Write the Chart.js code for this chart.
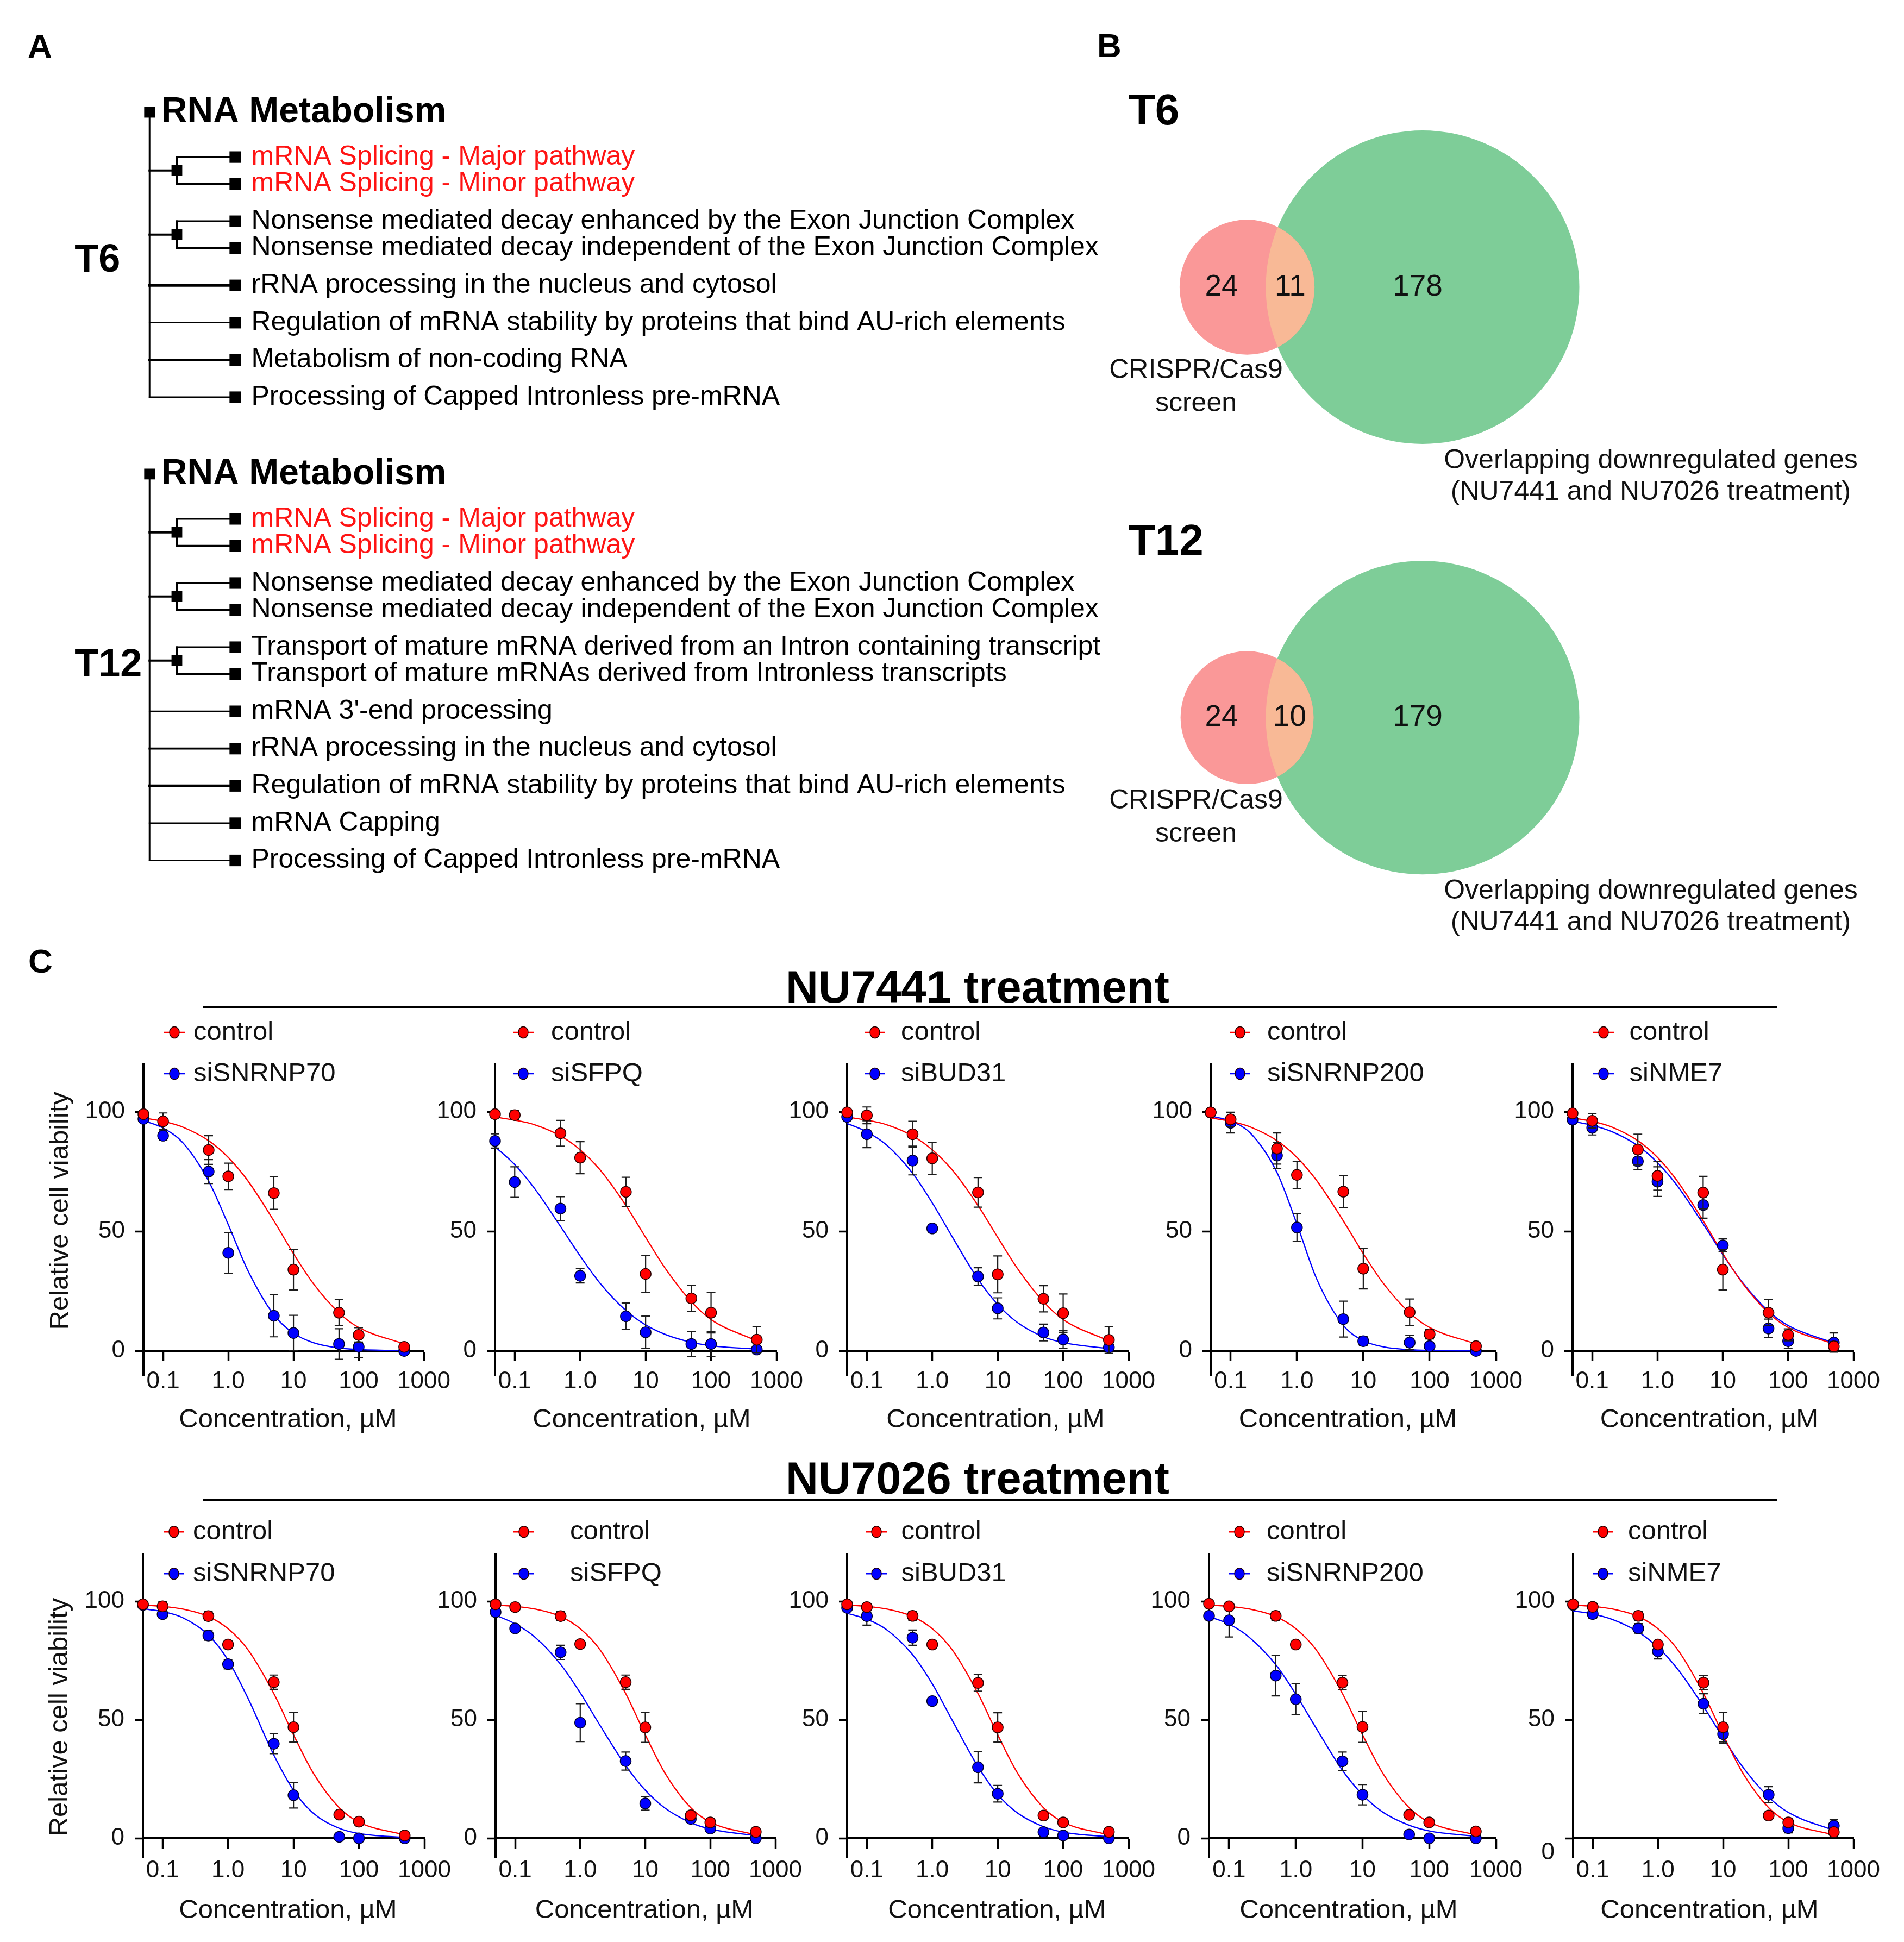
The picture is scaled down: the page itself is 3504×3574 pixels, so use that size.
<!DOCTYPE html>
<html lang="en">
<head>
<meta charset="utf-8">
<title>RNA metabolism, Venn overlap and dose-response figure</title>
<script src="https://cdn.jsdelivr.net/npm/chart.js@4.4.1/dist/chart.umd.min.js"></script>
<style>
  html, body { margin:0; padding:0; background:#fff; }
  body { position:relative; width:3504px; height:3574px; overflow:hidden;
         font-family:"Liberation Sans", Arial, Helvetica, sans-serif; color:#000; }
  canvas { position:absolute; }
  .t { position:absolute; line-height:1; white-space:nowrap; font-weight:bold; }
  .rule { position:absolute; height:0; border-top:3px solid #000; }
</style>
</head>
<body>
<script>
// ===================== DATA =====================
// ---- Panel A: Reactome tree ----
const TREE_ROOT = 'RNA Metabolism';
const TREE_NAMES = ['T6', 'T12'];
const T6_PATHWAYS = [
  'mRNA Splicing - Major pathway',
  'mRNA Splicing - Minor pathway',
  'Nonsense mediated decay enhanced by the Exon Junction Complex',
  'Nonsense mediated decay independent of the Exon Junction Complex',
  'rRNA processing in the nucleus and cytosol',
  'Regulation of mRNA stability by proteins that bind AU-rich elements',
  'Metabolism of non-coding RNA',
  'Processing of Capped Intronless pre-mRNA'
];
const T6_CLUSTER = [1, 1, 2, 2, 0, 0, 0, 0];
const T6_HIGHLIGHT = [1, 1, 0, 0, 0, 0, 0, 0];
const T12_PATHWAYS = [
  'mRNA Splicing - Major pathway',
  'mRNA Splicing - Minor pathway',
  'Nonsense mediated decay enhanced by the Exon Junction Complex',
  'Nonsense mediated decay independent of the Exon Junction Complex',
  'Transport of mature mRNA derived from an Intron containing transcript',
  'Transport of mature mRNAs derived from Intronless transcripts',
  "mRNA 3'-end processing",
  'rRNA processing in the nucleus and cytosol',
  'Regulation of mRNA stability by proteins that bind AU-rich elements',
  'mRNA Capping',
  'Processing of Capped Intronless pre-mRNA'
];
const T12_CLUSTER = [1, 1, 2, 2, 3, 3, 0, 0, 0, 0, 0];
const T12_HIGHLIGHT = [1, 1, 0, 0, 0, 0, 0, 0, 0, 0, 0];

// ---- Panel B: Venn counts [CRISPR only, both, overlapping-DEG only] ----
const VENN_NAMES = ['T6', 'T12'];
const VENN_T6 = [24, 11, 178];
const VENN_T12 = [24, 10, 179];
const VENN_LEFT_LABEL = ['CRISPR/Cas9', 'screen'];
const VENN_RIGHT_LABEL = ['Overlapping downregulated genes', '(NU7441 and NU7026 treatment)'];

// ---- Panel C: dose response ----
const TREATMENTS = ['NU7441 treatment', 'NU7026 treatment'];
const KNOCKDOWNS = ['siSNRNP70', 'siSFPQ', 'siBUD31', 'siSNRNP200', 'siNME7'];
const DOSES = [0.05, 0.1, 0.5, 1, 5, 10, 50, 100, 500];
const FIT_X = [0.05, 0.1, 0.2, 0.5, 1, 2, 5, 10, 20, 50, 100, 500];
const X_TICKS = [0.1, 1, 10, 100, 1000];
const X_TICK_LABELS = ['0.1', '1.0', '10', '100', '1000'];
const Y_TICKS = [0, 50, 100];
const Y_TICK_LABELS = ['0', '50', '100'];

// NU7441
const c1_ctrl    = [99, 96, 84, 73, 66, 34, 16, 6.7, 1.7];
const c1_ctrl_sd = [1.5, 3.5, 6, 5.5, 6.8, 8.5, 5.5, 3, 1.5];
const c1_si      = [97, 90, 75, 41, 14.7, 7.5, 2.9, 1.7, 0];
const c1_si_sd   = [1, 2, 5, 8.5, 8.8, 7.4, 6.4, 4.6, 1];
const c1_ctrl_fit = [97.4, 96.0, 93.6, 87.9, 80.9, 71.1, 54.4, 40.7, 28.3, 15.9, 9.8, 2.9];
const c1_si_fit   = [96.3, 93.2, 87.1, 71.0, 52.8, 33.6, 15.1, 7.4, 3.5, 1.2, 0.6, 0.1];

const c2_ctrl    = [99, 98.6, 91, 80.8, 66.5, 32.2, 22, 16, 4.7];
const c2_ctrl_sd = [1, 2, 5.4, 6.7, 6.1, 7.7, 5.5, 8.5, 5.4];
const c2_si      = [87.8, 70.6, 59.5, 31.4, 14.5, 7.8, 2.9, 2.9, 0.6];
const c2_si_sd   = [3, 6.4, 5, 3, 5.5, 6.8, 5.2, 5.2, 1];
const c2_ctrl_fit = [97.8, 96.5, 94.6, 89.9, 84.1, 75.8, 60.8, 47.5, 34.5, 20.6, 13.1, 4.2];
const c2_si_fit   = [85.4, 77.9, 68.0, 52.1, 39.7, 28.4, 16.9, 10.9, 6.9, 3.6, 2.2, 0.7];

const c3_ctrl    = [99.7, 98.5, 90.6, 80.5, 66.3, 32, 21.8, 15.8, 4.6];
const c3_ctrl_sd = [1, 3.5, 5.4, 6.7, 6.2, 7.7, 5.5, 8, 5.6];
const c3_si      = [97.9, 90.6, 79.6, 51.2, 31.1, 17.8, 7.7, 4.8, 1.5];
const c3_si_sd   = [1, 5.6, 6, 1.5, 3.7, 4.4, 3.5, 3.8, 1];
const c3_ctrl_fit = [97.8, 96.5, 94.6, 89.9, 84.1, 75.8, 60.8, 47.5, 34.5, 20.6, 13.1, 4.2];
const c3_si_fit   = [95.1, 91.6, 86.1, 74.3, 61.9, 47.9, 30.0, 19.4, 11.9, 5.9, 3.5, 0.9];

const c4_ctrl    = [99.7, 96.8, 84.6, 73.6, 66.6, 34.4, 16.2, 7, 2];
const c4_ctrl_sd = [1, 3, 6.5, 5.7, 6.8, 8.5, 5.5, 2, 1.5];
const c4_si      = [99.7, 95.4, 81.7, 51.6, 13.3, 4.1, 3.5, 2, 0];
const c4_si_sd   = [1, 4.3, 5.5, 5.8, 7.5, 2, 3, 1.5, 1];
const c4_ctrl_fit = [97.4, 96.0, 93.6, 87.9, 80.9, 71.1, 54.4, 40.7, 28.3, 15.9, 9.8, 2.9];
const c4_si_fit   = [98.2, 96.1, 91.0, 74.6, 53.0, 29.9, 10.7, 4.3, 1.7, 0.5, 0.2, 0.0];

const c5_ctrl    = [99.3, 96.2, 84.2, 73.2, 66.2, 34, 16, 6.7, 1.9];
const c5_ctrl_sd = [1, 3, 6.4, 6, 6.8, 8.5, 5.5, 2.5, 2];
const c5_si      = [96.7, 93.3, 79.3, 70.8, 61, 44.1, 9.4, 4.1, 3.5];
const c5_si_sd   = [1, 3, 3.5, 6.2, 5.5, 2.7, 3.9, 3, 4];
const c5_ctrl_fit = [97.4, 96.0, 93.6, 87.9, 80.9, 71.1, 54.4, 40.7, 28.3, 15.9, 9.8, 2.9];
const c5_si_fit   = [96.0, 94.3, 91.7, 85.8, 78.7, 69.1, 53.1, 40.3, 28.6, 16.6, 10.6, 3.3];

// NU7026
const c6_ctrl    = [98.8, 97.9, 93.8, 81.8, 65.9, 46.9, 10, 7, 1.2];
const c6_ctrl_sd = [1, 2, 2, 1.5, 3, 6.3, 1.5, 1.5, 1];
const c6_si      = [98.5, 94.6, 85.6, 73.5, 39.9, 18.2, 0.6, 0, 0];
const c6_si_sd   = [1, 1.5, 2, 2, 4.2, 5.4, 1, 1, 1];
const c6_ctrl_fit = [98.5, 97.9, 96.8, 93.6, 88.5, 79.7, 61.1, 43.7, 27.6, 12.9, 6.8, 1.4];
const c6_si_fit   = [96.9, 95.7, 93.2, 85.8, 75.2, 59.3, 35.2, 20.3, 10.6, 4.2, 2.0, 0.3];

const c7_ctrl    = [98.8, 97.6, 93.8, 82, 65.9, 46.8, 9.7, 6.7, 2.7];
const c7_ctrl_sd = [1, 1.5, 2, 1.5, 3, 6.3, 1.5, 1.5, 1.5];
const c7_si      = [95.5, 88.6, 78.5, 48.8, 32.6, 14.7, 8.2, 4.1, 0];
const c7_si_sd   = [1, 1.5, 3, 8, 3.8, 2.8, 1.5, 1.5, 1];
const c7_ctrl_fit = [98.5, 97.9, 96.8, 93.6, 88.5, 79.7, 61.1, 43.7, 27.6, 12.9, 6.8, 1.4];
const c7_si_fit   = [94.2, 90.5, 85.0, 73.4, 61.4, 47.8, 30.7, 20.3, 12.8, 6.6, 3.9, 1.1];

const c8_ctrl    = [98.8, 97.6, 93.9, 81.8, 65.6, 46.8, 9.6, 6.7, 2.7];
const c8_ctrl_sd = [1, 1.5, 2, 1.5, 3.5, 6.2, 1.5, 1.5, 1.5];
const c8_si      = [97.3, 93.8, 84.7, 57.9, 30, 18.8, 2.6, 1.2, 0];
const c8_si_sd   = [1, 3.8, 3.2, 1.5, 6.6, 3.5, 1.5, 1.5, 1];
const c8_ctrl_fit = [98.5, 97.9, 96.8, 93.6, 88.5, 79.7, 61.1, 43.7, 27.6, 12.9, 6.8, 1.4];
const c8_si_fit   = [95.0, 92.5, 88.1, 77.5, 65.2, 50.0, 30.2, 18.5, 10.7, 4.9, 2.6, 0.6];

const c9_ctrl    = [99, 97.9, 93.9, 81.8, 65.7, 47, 9.9, 6.7, 2.9];
const c9_ctrl_sd = [1, 1.5, 2, 1.5, 3, 6.5, 1.5, 1.5, 1.5];
const c9_si      = [93.9, 92, 68.7, 58.7, 32.5, 18.4, 1.6, 0, 0];
const c9_si_sd   = [1.5, 7, 8.6, 6.5, 3.9, 4.3, 1, 1, 1];
const c9_ctrl_fit = [98.5, 97.9, 96.8, 93.6, 88.5, 79.7, 61.1, 43.7, 27.6, 12.9, 6.8, 1.4];
const c9_si_fit   = [93.6, 90.4, 84.9, 73.3, 60.8, 46.7, 28.7, 18.4, 11.1, 5.5, 3.1, 0.8];

const c10_ctrl    = [98.8, 97.7, 93.9, 81.8, 65.7, 46.9, 9.6, 6.7, 2.6];
const c10_ctrl_sd = [1, 1.5, 2, 1.5, 3, 6.2, 1.5, 1.5, 1.5];
const c10_si      = [98.5, 94.7, 88.6, 78.9, 56.8, 44, 18.4, 4.3, 5.3];
const c10_si_sd   = [1, 2, 2, 3.2, 4.2, 3.8, 3.4, 2, 2.5];
const c10_ctrl_fit = [98.5, 97.9, 96.8, 93.6, 88.5, 79.7, 61.1, 43.7, 27.6, 12.9, 6.8, 1.4];
const c10_si_fit   = [96.0, 94.7, 92.4, 87.1, 80.6, 71.5, 55.7, 42.4, 30.1, 17.4, 10.9, 3.3];

// ===================== STYLE / LAYOUT =====================
const FONT = '"Liberation Sans", Arial, Helvetica, sans-serif';
const RED = '#ff0000', BLUE = '#0000ff', INK = '#111111';
const HL_RED = '#ff1414';

const PANELS = [
  {ctrl:c1_ctrl, ctrlSd:c1_ctrl_sd, si:c1_si, siSd:c1_si_sd, ctrlFit:c1_ctrl_fit, siFit:c1_si_fit},
  {ctrl:c2_ctrl, ctrlSd:c2_ctrl_sd, si:c2_si, siSd:c2_si_sd, ctrlFit:c2_ctrl_fit, siFit:c2_si_fit},
  {ctrl:c3_ctrl, ctrlSd:c3_ctrl_sd, si:c3_si, siSd:c3_si_sd, ctrlFit:c3_ctrl_fit, siFit:c3_si_fit},
  {ctrl:c4_ctrl, ctrlSd:c4_ctrl_sd, si:c4_si, siSd:c4_si_sd, ctrlFit:c4_ctrl_fit, siFit:c4_si_fit},
  {ctrl:c5_ctrl, ctrlSd:c5_ctrl_sd, si:c5_si, siSd:c5_si_sd, ctrlFit:c5_ctrl_fit, siFit:c5_si_fit},
  {ctrl:c6_ctrl, ctrlSd:c6_ctrl_sd, si:c6_si, siSd:c6_si_sd, ctrlFit:c6_ctrl_fit, siFit:c6_si_fit},
  {ctrl:c7_ctrl, ctrlSd:c7_ctrl_sd, si:c7_si, siSd:c7_si_sd, ctrlFit:c7_ctrl_fit, siFit:c7_si_fit},
  {ctrl:c8_ctrl, ctrlSd:c8_ctrl_sd, si:c8_si, siSd:c8_si_sd, ctrlFit:c8_ctrl_fit, siFit:c8_si_fit},
  {ctrl:c9_ctrl, ctrlSd:c9_ctrl_sd, si:c9_si, siSd:c9_si_sd, ctrlFit:c9_ctrl_fit, siFit:c9_si_fit},
  {ctrl:c10_ctrl, ctrlSd:c10_ctrl_sd, si:c10_si, siSd:c10_si_sd, ctrlFit:c10_ctrl_fit, siFit:c10_si_fit}
];

const ROW_GEOM = [
  {y0:2486, y100:2046, ymin:-10.4, legY:[-146,-70], xtDy:127, xlPad:13, ytDy:-258},
  {y0:3383, y100:2947, ymin:-8,    legY:[-128,-51], xtDy:133, xlPad:16, ytDy:-223}
];
const COL_GEOM = [
  {ax:264,    ar:780.4,  mx:57, tx:92,    xtDx:8},
  {ax:911.4,  ar:1429.8, mx:52, tx:103,   xtDx:11},
  {ax:1559.4, ar:2076.9, mx:51, tx:99,    xtDx:14},
  {ax:2227.8, ar:2752.3, mx:54, tx:104,   xtDx:-10},
  {ax:2893.9, ar:3411,   mx:57, tx:104.5, xtDx:-7},
  {ax:263,    ar:781.3,  mx:57, tx:92,    xtDx:8},
  {ax:912.3,  ar:1427.5, mx:52, tx:137,   xtDx:16},
  {ax:1558.5, ar:2076,   mx:54, tx:99.5,  xtDx:17},
  {ax:2225.1, ar:2752.8, mx:56, tx:106,   xtDx:-7},
  {ax:2894.8, ar:3411,   mx:55, tx:101,   xtDx:-7}
];

function addCanvas(left, top, w, h) {
  const c = document.createElement('canvas');
  c.width = Math.round(w); c.height = Math.round(h);
  c.style.left = Math.round(left) + 'px';
  c.style.top = Math.round(top) + 'px';
  document.body.appendChild(c);
  return c;
}
function addText(txt, left, cy, size, center) {
  const d = document.createElement('div');
  d.className = 't';
  d.textContent = txt;
  d.style.left = left + 'px'; d.style.top = cy + 'px'; d.style.fontSize = size + 'px';
  d.style.transform = center ? 'translate(-50%,-50%)' : 'translateY(-50%)';
  document.body.appendChild(d);
}
function addRule(left, top, w) {
  const d = document.createElement('div');
  d.className = 'rule';
  d.style.left = left + 'px'; d.style.top = top + 'px'; d.style.width = w + 'px';
  document.body.appendChild(d);
}

// ----- static labels -----
addText('A', 51, 85, 62, false);
addText('B', 2019, 84, 62, false);
addText('C', 52, 1769, 62, false);
addText(TREATMENTS[0], 1799, 1816, 83, true);
addRule(374, 1852, 2897);
addText(TREATMENTS[1], 1799, 2720, 83, true);
addRule(374, 2759, 2897);

// ===================== PANEL A: tree =====================
const TREE_LAYOUT = {
  rootPos:[0, 9.56], firstGap:1.185, pairGap:0.71, rowGap:0.985, labelPos:[3.93, 5.06],
  xMain:264, xGroup:315, xItem:424, xText:454, xHead:286, xLabel:124,
  rowWidth:[[0,0,0,0,5,2.6,5,2.8],[0,0,0,0,0,0,2.6,3.8,5,2.8,2.8]],
  groupWidth:4, bracketWidth:3.2, mainWidth:3,
  unitPx:70.9, rootPx:195
};
const TREES = [
  {name:TREE_NAMES[0], paths:T6_PATHWAYS, cluster:T6_CLUSTER, hl:T6_HIGHLIGHT},
  {name:TREE_NAMES[1], paths:T12_PATHWAYS, cluster:T12_CLUSTER, hl:T12_HIGHLIGHT}
];
TREES.forEach((t, ti) => {
  const L = TREE_LAYOUT;
  t.root = L.rootPos[ti];
  t.rows = [];
  let y = t.root + L.firstGap;
  t.cluster.forEach((c, i) => {
    if (i > 0) y += (c && c === t.cluster[i-1]) ? L.pairGap : L.rowGap;
    t.rows.push(y);
  });
});
function seg(x1, y1, x2, y2, w) {
  return {data:[{x:x1,y:y1},{x:x2,y:y2}], showLine:true, borderColor:'#000', borderWidth:w,
          pointRadius:0, clip:false, borderCapStyle:'square'};
}
(function buildTree() {
  const L = TREE_LAYOUT;
  const datasets = [];
  const itemPts = [], nodePts = [], rootPts = [];
  TREES.forEach((t, ti) => {
    const last = t.rows[t.rows.length - 1];
    datasets.push(seg(L.xMain, t.root, L.xMain, last, L.mainWidth));
    rootPts.push({x:L.xMain, y:t.root});
    const ids = [...new Set(t.cluster.filter(c => c > 0))];
    ids.forEach(id => {
      const rs = t.rows.filter((r, i) => t.cluster[i] === id);
      const mid = (rs[0] + rs[rs.length-1]) / 2;
      datasets.push(seg(L.xMain, mid, L.xGroup, mid, L.groupWidth));
      datasets.push(seg(L.xGroup, rs[0], L.xGroup, rs[rs.length-1], L.bracketWidth));
      rs.forEach(r => datasets.push(seg(L.xGroup, r, L.xItem, r, L.bracketWidth)));
      nodePts.push({x:L.xGroup, y:mid});
    });
    t.rows.forEach((r, i) => {
      if (!t.cluster[i]) datasets.push(seg(L.xMain, r, L.xItem, r, L.rowWidth[ti][i]));
      itemPts.push({x:L.xItem, y:r});
    });
  });
  datasets.push({data:itemPts, pointStyle:'rect', pointRadius:15, backgroundColor:'#000', borderWidth:0, showLine:false, clip:false});
  datasets.push({data:nodePts, pointStyle:'rect', pointRadius:14, backgroundColor:'#000', borderWidth:0, showLine:false, clip:false});
  datasets.push({data:rootPts, pointStyle:'rect', pointRadius:14, backgroundColor:'#000', borderWidth:0, showLine:false, clip:false});

  const W = 2100, H = 1700;
  const yMin = -L.rootPx / L.unitPx, yMax = yMin + H / L.unitPx;
  const treeText = {
    id:'treeText',
    afterDraw(chart) {
      const {ctx} = chart; const xs = chart.scales.x, ys = chart.scales.y;
      ctx.save();
      ctx.textBaseline = 'middle'; ctx.textAlign = 'left';
      TREES.forEach((t, ti) => {
        ctx.fillStyle = '#000';
        ctx.font = 'bold 66px ' + FONT;
        ctx.fillText(TREE_ROOT, xs.getPixelForValue(L.xHead), ys.getPixelForValue(t.root));
        ctx.font = 'bold 72px ' + FONT;
        ctx.fillText(t.name, xs.getPixelForValue(L.xLabel), ys.getPixelForValue(t.root + L.labelPos[ti]));
        ctx.font = '50px ' + FONT;
        t.paths.forEach((p, i) => {
          ctx.fillStyle = t.hl[i] ? HL_RED : '#000';
          ctx.fillText(p, xs.getPixelForValue(L.xText), ys.getPixelForValue(t.rows[i]));
        });
      });
      ctx.restore();
    }
  };
  new Chart(addCanvas(0, 0, W, H), {
    type:'scatter',
    data:{datasets},
    options:{
      responsive:false, animation:false, devicePixelRatio:1, events:[],
      layout:{padding:0},
      plugins:{legend:{display:false}, tooltip:{enabled:false}},
      scales:{
        x:{type:'linear', min:0, max:W, display:false},
        y:{type:'linear', min:yMin, max:yMax, reverse:true, display:false}
      }
    },
    plugins:[treeText]
  });
})();

// ===================== PANEL B: Venn =====================
(function buildVenn() {
  const LAYOUT = {left:2000, top:0, w:1504, h:1800,
    greenCx:2618, dist:323, cy:[528.5, 1320.7], pxPerRoot:288.5/Math.sqrt(189),
    titleX:2077, titleDy:-322, leftLabelX:2201, leftLabelDy:[154, 215],
    rightLabelX:3038, rightLabelDy:[319.5, 377.5], soloDx:-47, greenNumDx:-9};
  const SETS = [VENN_T6, VENN_T12];
  const COL = {red:'#fa9898', green:'#7ecd98', lens:'#f8b996'};
  const vennDraw = {
    id:'vennDraw',
    afterDatasetsDraw(chart) {
      const {ctx} = chart; const xs = chart.scales.x, ys = chart.scales.y;
      const rPx = n => xs.getPixelForValue(LAYOUT.left + LAYOUT.pxPerRoot * Math.sqrt(n)) - xs.getPixelForValue(LAYOUT.left);
      SETS.forEach((s, i) => {
        const cyV = LAYOUT.cy[i];
        const gX = xs.getPixelForValue(LAYOUT.greenCx), rX = xs.getPixelForValue(LAYOUT.greenCx - LAYOUT.dist);
        const cy = ys.getPixelForValue(cyV);
        const rG = rPx(s[1] + s[2]), rR = rPx(s[0] + s[1]);
        ctx.save();
        ctx.fillStyle = COL.green; ctx.beginPath(); ctx.arc(gX, cy, rG, 0, Math.PI*2); ctx.fill();
        ctx.fillStyle = COL.red; ctx.beginPath(); ctx.arc(rX, cy, rR, 0, Math.PI*2); ctx.fill();
        ctx.beginPath(); ctx.arc(gX, cy, rG, 0, Math.PI*2); ctx.clip();
        ctx.fillStyle = COL.lens; ctx.beginPath(); ctx.arc(rX, cy, rR, 0, Math.PI*2); ctx.fill();
        ctx.restore();
        ctx.save();
        ctx.fillStyle = INK; ctx.textBaseline = 'middle'; ctx.textAlign = 'center';
        ctx.font = '55px ' + FONT;
        const lensMid = ((rX + rR) + (gX - rG)) / 2;
        ctx.fillText(String(s[0]), rX + LAYOUT.soloDx, cy);
        ctx.fillText(String(s[1]), lensMid, cy);
        ctx.fillText(String(s[2]), gX + LAYOUT.greenNumDx, cy);
        ctx.font = '50px ' + FONT;
        VENN_LEFT_LABEL.forEach((t, k) => ctx.fillText(t, xs.getPixelForValue(LAYOUT.leftLabelX), ys.getPixelForValue(cyV + LAYOUT.leftLabelDy[k])));
        VENN_RIGHT_LABEL.forEach((t, k) => ctx.fillText(t, xs.getPixelForValue(LAYOUT.rightLabelX), ys.getPixelForValue(cyV + LAYOUT.rightLabelDy[k])));
        ctx.textAlign = 'left'; ctx.font = 'bold 80px ' + FONT; ctx.fillStyle = '#000';
        ctx.fillText(VENN_NAMES[i], xs.getPixelForValue(LAYOUT.titleX), ys.getPixelForValue(cyV + LAYOUT.titleDy));
        ctx.restore();
      });
    }
  };
  new Chart(addCanvas(LAYOUT.left, LAYOUT.top, LAYOUT.w, LAYOUT.h), {
    type:'scatter',
    data:{datasets:[]},
    options:{
      responsive:false, animation:false, devicePixelRatio:1, events:[],
      layout:{padding:0},
      plugins:{legend:{display:false}, tooltip:{enabled:false}},
      scales:{
        x:{type:'linear', min:LAYOUT.left, max:LAYOUT.left + LAYOUT.w, display:false},
        y:{type:'linear', min:LAYOUT.top, max:LAYOUT.top + LAYOUT.h, reverse:true, display:false}
      }
    },
    plugins:[vennDraw]
  });
})();

// ===================== PANEL C: dose-response =====================
const doseDecor = {
  id:'doseDecor',
  beforeDatasetDraw(chart, args) {
    const ds = chart.data.datasets[args.index];
    if (!ds.sd) return;
    const {ctx} = chart; const xs = chart.scales.x, ys = chart.scales.y;
    ctx.save();
    ctx.strokeStyle = '#1c1c1c'; ctx.lineWidth = 2.2;
    ds.data.forEach((p, i) => {
      const s = ds.sd[i];
      const px = xs.getPixelForValue(p.x);
      const hi = ys.getPixelForValue(p.y + s), lo = ys.getPixelForValue(p.y - s);
      ctx.beginPath();
      ctx.moveTo(px, hi); ctx.lineTo(px, lo);
      ctx.moveTo(px - 8, hi); ctx.lineTo(px + 8, hi);
      ctx.moveTo(px - 8, lo); ctx.lineTo(px + 8, lo);
      ctx.stroke();
    });
    ctx.restore();
  },
  afterDraw(chart, args, o) {
    const {ctx} = chart; const xs = chart.scales.x, ys = chart.scales.y;
    const left = chart.chartArea.left;
    const y100 = ys.getPixelForValue(100), y0 = ys.getPixelForValue(0);
    ctx.save();
    ctx.font = '49px ' + FONT; ctx.textBaseline = 'middle';
    o.legend.forEach((item, i) => {
      const ly = y100 + o.legY[i], mx = left + o.mx;
      ctx.strokeStyle = item.color; ctx.lineWidth = 2.5;
      ctx.beginPath(); ctx.moveTo(mx - 19, ly); ctx.lineTo(mx + 19, ly); ctx.stroke();
      ctx.beginPath(); ctx.ellipse(mx, ly, 9, 10.5, 0, 0, Math.PI*2);
      ctx.fillStyle = item.color; ctx.fill();
      ctx.lineWidth = 1.5; ctx.strokeStyle = '#220000'; ctx.stroke();
      ctx.fillStyle = INK; ctx.textAlign = 'left';
      ctx.fillText(item.text, left + o.tx, ly);
    });
    ctx.textAlign = 'center';
    ctx.fillText('Concentration, µM', (chart.chartArea.left + chart.chartArea.right) / 2 + o.xtDx, y0 + o.xtDy);
    if (o.yTitle) {
      ctx.translate(left - 153, y0 + o.ytDy);
      ctx.rotate(-Math.PI / 2);
      ctx.fillText('Relative cell viability', 0, 0);
    }
    ctx.restore();
  }
};

PANELS.forEach((p, idx) => {
  const row = Math.floor(idx / 5), col = idx % 5;
  const g = ROW_GEOM[row], c = COL_GEOM[idx];
  const k = (g.y0 - g.y100) / 100;
  const top = g.y0 - 120 * k, bottom = g.y0 - g.ymin * k;
  const LW = 200, PT = 170, PB = 180, PR = 90;
  const cv = addCanvas(c.ax - LW, top - PT, (c.ar - c.ax) + LW + PR, (bottom - top) + PT + PB);
  const yLabels = (idx === 9) ? [['', Y_TICK_LABELS[0]], Y_TICK_LABELS[1], Y_TICK_LABELS[2]] : Y_TICK_LABELS;
  const kd = KNOCKDOWNS[col];
  new Chart(cv, {
    type:'scatter',
    data:{datasets:[
      {label:'control', data:DOSES.map((x, i) => ({x, y:p.ctrl[i]})), sd:p.ctrlSd,
       backgroundColor:RED, borderColor:'#2a0000', borderWidth:1.5, pointRadius:10, pointStyle:'circle',
       showLine:false, clip:false, order:0},
      {label:kd, data:DOSES.map((x, i) => ({x, y:p.si[i]})), sd:p.siSd,
       backgroundColor:BLUE, borderColor:'#00002a', borderWidth:1.5, pointRadius:10, pointStyle:'circle',
       showLine:false, clip:false, order:1},
      {label:'control fit', data:FIT_X.map((x, i) => ({x, y:p.ctrlFit[i]})), showLine:true,
       borderColor:RED, borderWidth:2.3, pointRadius:0, cubicInterpolationMode:'monotone', clip:false, order:2},
      {label:kd + ' fit', data:FIT_X.map((x, i) => ({x, y:p.siFit[i]})), showLine:true,
       borderColor:BLUE, borderWidth:2.3, pointRadius:0, cubicInterpolationMode:'monotone', clip:false, order:3}
    ]},
    options:{
      responsive:false, animation:false, devicePixelRatio:1, events:[],
      layout:{padding:{left:0, top:PT, right:PR, bottom:PB}},
      plugins:{
        legend:{display:false}, tooltip:{enabled:false},
        doseDecor:{
          legend:[{text:'control', color:RED}, {text:kd, color:BLUE}],
          legY:g.legY, mx:c.mx, tx:c.tx, xtDx:c.xtDx, xtDy:g.xtDy,
          yTitle:(col === 0), ytDy:g.ytDy
        }
      },
      scales:{
        x:{
          type:'logarithmic', min:0.05, max:1000, position:{y:0},
          afterBuildTicks:s => { s.ticks = X_TICKS.map(v => ({value:v})); },
          ticks:{callback:(v, i) => X_TICK_LABELS[i], font:{size:44, family:FONT}, color:INK,
                 padding:g.xlPad, maxRotation:0, minRotation:0, autoSkip:false},
          grid:{drawOnChartArea:false, drawTicks:true, tickLength:17, tickWidth:3.5, tickColor:'#000'},
          border:{display:true, color:'#000', width:4},
          title:{display:false}
        },
        y:{
          type:'linear', min:g.ymin, max:120, position:'left',
          afterBuildTicks:s => { s.ticks = Y_TICKS.map(v => ({value:v})); },
          afterFit:s => { s.width = LW; },
          ticks:{callback:(v, i) => yLabels[i], font:{size:44, family:FONT}, color:INK, padding:19, autoSkip:false},
          grid:{drawOnChartArea:false, drawTicks:true, tickLength:15, tickWidth:3.5, tickColor:'#000'},
          border:{display:true, color:'#000', width:4},
          title:{display:false}
        }
      }
    },
    plugins:[doseDecor]
  });
});
</script>
</body>
</html>
